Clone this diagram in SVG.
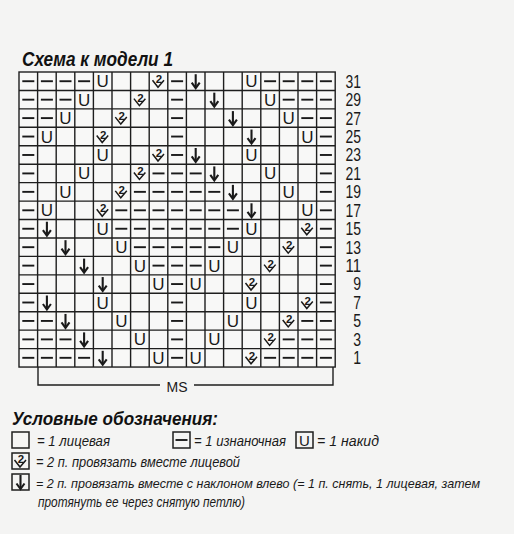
<svg xmlns="http://www.w3.org/2000/svg" xmlns:xlink="http://www.w3.org/1999/xlink" width="514" height="534" viewBox="0 0 514 534">
<style>
.bg{fill:#f4f4f3}
.grid{fill:none;stroke:#1e1e1e;stroke-width:1.4}
.sym{fill:none;stroke:#1a1a1a;stroke-width:1.9;stroke-linecap:butt}
.arr{fill:none;stroke:#1a1a1a;stroke-width:2.1;stroke-linejoin:miter}
.u{font-family:"Liberation Sans",Arial,sans-serif;font-size:17px;fill:#1a1a1a;text-anchor:middle}
.two{font-family:"Liberation Sans",Arial,sans-serif;font-size:11.5px;font-weight:bold;fill:#1a1a1a;text-anchor:middle}
.num{font-family:"Liberation Sans",Arial,sans-serif;font-size:17.5px;fill:#1a1a1a;text-anchor:end}
.title{font-family:"Liberation Sans",Arial,sans-serif;font-size:20px;font-weight:bold;font-style:italic;fill:#111}
.leg{font-family:"Liberation Sans",Arial,sans-serif;font-size:14px;font-style:italic;fill:#1a1a1a}
.ms{font-family:"Liberation Sans",Arial,sans-serif;font-size:14px;fill:#1a1a1a;text-anchor:middle}
.box{fill:none;stroke:#1e1e1e;stroke-width:1.5}
</style>
<defs>
<line id="d" class="sym" x1="-6" y1="0" x2="6" y2="0"/>
<g id="a"><line class="arr" x1="0" y1="-7" x2="0" y2="6"/><polyline class="arr" points="-4,1.5 0,7 4,1.5"/></g>
<polyline id="c" class="sym" style="stroke-width:1.5" points="-6,-1 -0.5,6 5.5,-1"/>
</defs>
<rect class="bg" x="0" y="0" width="514" height="534"/>
<text class="title" x="22" y="66" textLength="151" lengthAdjust="spacingAndGlyphs">Схема к модели 1</text>

<g id="grid">
<rect class="grid" x="19" y="72" width="316.2" height="295.04" style="fill:#f8f8f7"/>
<path class="grid" d="M37.6,72V367.04M56.2,72V367.04M74.8,72V367.04M93.4,72V367.04M112,72V367.04M130.6,72V367.04M149.2,72V367.04M167.8,72V367.04M186.4,72V367.04M205,72V367.04M223.6,72V367.04M242.2,72V367.04M260.8,72V367.04M279.4,72V367.04M298,72V367.04M316.6,72V367.04M19,90.44H335.2M19,108.88H335.2M19,127.32H335.2M19,145.76H335.2M19,164.2H335.2M19,182.64H335.2M19,201.08H335.2M19,219.52H335.2M19,237.96H335.2M19,256.4H335.2M19,274.84H335.2M19,293.28H335.2M19,311.72H335.2M19,330.16H335.2M19,348.6H335.2"/>
</g>

<g id="row31" transform="translate(0,81.22)">
<use xlink:href="#d" x="28.3"/><use xlink:href="#d" x="46.9"/><use xlink:href="#d" x="65.5"/><use xlink:href="#d" x="84.1"/>
<text class="u" x="102.7" y="6">U</text>
<use xlink:href="#c" x="158.5"/><text class="two" x="159" y="2">2</text>
<use xlink:href="#d" x="177.1"/>
<use xlink:href="#a" x="195.7"/>
<text class="u" x="251.5" y="6">U</text>
<use xlink:href="#d" x="270.1"/><use xlink:href="#d" x="288.7"/><use xlink:href="#d" x="307.3"/><use xlink:href="#d" x="325.9"/>
</g>
<g id="row29" transform="translate(0,99.66)">
<use xlink:href="#d" x="28.3"/><use xlink:href="#d" x="46.9"/><use xlink:href="#d" x="65.5"/>
<text class="u" x="84.1" y="6">U</text>
<use xlink:href="#c" x="139.9"/><text class="two" x="140.4" y="2">2</text>
<use xlink:href="#d" x="177.1"/>
<use xlink:href="#a" x="214.3"/>
<text class="u" x="270.1" y="6">U</text>
<use xlink:href="#d" x="288.7"/><use xlink:href="#d" x="307.3"/><use xlink:href="#d" x="325.9"/>
</g>
<g id="row27" transform="translate(0,118.1)">
<use xlink:href="#d" x="28.3"/><use xlink:href="#d" x="46.9"/>
<text class="u" x="65.5" y="6">U</text>
<use xlink:href="#c" x="121.3"/><text class="two" x="121.8" y="2">2</text>
<use xlink:href="#d" x="177.1"/>
<use xlink:href="#a" x="232.9"/>
<text class="u" x="288.7" y="6">U</text>
<use xlink:href="#d" x="307.3"/><use xlink:href="#d" x="325.9"/>
</g>
<g id="row25" transform="translate(0,136.54)">
<use xlink:href="#d" x="28.3"/>
<text class="u" x="46.9" y="6">U</text>
<use xlink:href="#c" x="102.7"/><text class="two" x="103.2" y="2">2</text>
<use xlink:href="#d" x="177.1"/>
<use xlink:href="#a" x="251.5"/>
<text class="u" x="307.3" y="6">U</text>
<use xlink:href="#d" x="325.9"/>
</g>
<g id="row23" transform="translate(0,154.98)">
<use xlink:href="#d" x="28.3"/>
<text class="u" x="102.7" y="6">U</text>
<use xlink:href="#c" x="158.5"/><text class="two" x="159" y="2">2</text>
<use xlink:href="#d" x="177.1"/>
<use xlink:href="#a" x="195.7"/>
<text class="u" x="251.5" y="6">U</text>
<use xlink:href="#d" x="325.9"/>
</g>
<g id="row21" transform="translate(0,173.42)">
<use xlink:href="#d" x="28.3"/>
<text class="u" x="84.1" y="6">U</text>
<use xlink:href="#c" x="139.9"/><text class="two" x="140.4" y="2">2</text>
<use xlink:href="#d" x="158.5"/><use xlink:href="#d" x="177.1"/><use xlink:href="#d" x="195.7"/>
<use xlink:href="#a" x="214.3"/>
<text class="u" x="270.1" y="6">U</text>
<use xlink:href="#d" x="325.9"/>
</g>
<g id="row19" transform="translate(0,191.86)">
<use xlink:href="#d" x="28.3"/>
<text class="u" x="65.5" y="6">U</text>
<use xlink:href="#c" x="121.3"/><text class="two" x="121.8" y="2">2</text>
<use xlink:href="#d" x="139.9"/><use xlink:href="#d" x="158.5"/><use xlink:href="#d" x="177.1"/><use xlink:href="#d" x="195.7"/><use xlink:href="#d" x="214.3"/>
<use xlink:href="#a" x="232.9"/>
<text class="u" x="288.7" y="6">U</text>
<use xlink:href="#d" x="325.9"/>
</g>
<g id="row17" transform="translate(0,210.3)">
<use xlink:href="#d" x="28.3"/>
<text class="u" x="46.9" y="6">U</text>
<use xlink:href="#c" x="102.7"/><text class="two" x="103.2" y="2">2</text>
<use xlink:href="#d" x="121.3"/><use xlink:href="#d" x="139.9"/><use xlink:href="#d" x="158.5"/><use xlink:href="#d" x="177.1"/><use xlink:href="#d" x="195.7"/><use xlink:href="#d" x="214.3"/><use xlink:href="#d" x="232.9"/>
<use xlink:href="#a" x="251.5"/>
<text class="u" x="307.3" y="6">U</text>
<use xlink:href="#d" x="325.9"/>
</g>
<g id="row15" transform="translate(0,228.74)">
<use xlink:href="#d" x="28.3"/>
<use xlink:href="#a" x="46.9"/>
<text class="u" x="102.7" y="6">U</text>
<use xlink:href="#d" x="121.3"/><use xlink:href="#d" x="139.9"/><use xlink:href="#d" x="158.5"/><use xlink:href="#d" x="177.1"/><use xlink:href="#d" x="195.7"/><use xlink:href="#d" x="214.3"/><use xlink:href="#d" x="232.9"/>
<text class="u" x="251.5" y="6">U</text>
<use xlink:href="#c" x="307.3"/><text class="two" x="307.8" y="2">2</text>
<use xlink:href="#d" x="325.9"/>
</g>
<g id="row13" transform="translate(0,247.18)">
<use xlink:href="#d" x="28.3"/>
<use xlink:href="#a" x="65.5"/>
<text class="u" x="121.3" y="6">U</text>
<use xlink:href="#d" x="139.9"/><use xlink:href="#d" x="158.5"/><use xlink:href="#d" x="177.1"/><use xlink:href="#d" x="195.7"/><use xlink:href="#d" x="214.3"/>
<text class="u" x="232.9" y="6">U</text>
<use xlink:href="#c" x="288.7"/><text class="two" x="289.2" y="2">2</text>
<use xlink:href="#d" x="325.9"/>
</g>
<g id="row11" transform="translate(0,265.62)">
<use xlink:href="#d" x="28.3"/>
<use xlink:href="#a" x="84.1"/>
<text class="u" x="139.9" y="6">U</text>
<use xlink:href="#d" x="158.5"/><use xlink:href="#d" x="177.1"/><use xlink:href="#d" x="195.7"/>
<text class="u" x="214.3" y="6">U</text>
<use xlink:href="#c" x="270.1"/><text class="two" x="270.6" y="2">2</text>
<use xlink:href="#d" x="325.9"/>
</g>
<g id="row9" transform="translate(0,284.06)">
<use xlink:href="#d" x="28.3"/>
<use xlink:href="#a" x="102.7"/>
<text class="u" x="158.5" y="6">U</text>
<use xlink:href="#d" x="177.1"/>
<text class="u" x="195.7" y="6">U</text>
<use xlink:href="#c" x="251.5"/><text class="two" x="252" y="2">2</text>
<use xlink:href="#d" x="325.9"/>
</g>
<g id="row7" transform="translate(0,302.5)">
<use xlink:href="#d" x="28.3"/>
<use xlink:href="#a" x="46.9"/>
<text class="u" x="102.7" y="6">U</text>
<use xlink:href="#d" x="177.1"/>
<text class="u" x="251.5" y="6">U</text>
<use xlink:href="#c" x="307.3"/><text class="two" x="307.8" y="2">2</text>
<use xlink:href="#d" x="325.9"/>
</g>
<g id="row5" transform="translate(0,320.94)">
<use xlink:href="#d" x="28.3"/><use xlink:href="#d" x="46.9"/>
<use xlink:href="#a" x="65.5"/>
<text class="u" x="121.3" y="6">U</text>
<use xlink:href="#d" x="177.1"/>
<text class="u" x="232.9" y="6">U</text>
<use xlink:href="#c" x="288.7"/><text class="two" x="289.2" y="2">2</text>
<use xlink:href="#d" x="307.3"/><use xlink:href="#d" x="325.9"/>
</g>
<g id="row3" transform="translate(0,339.38)">
<use xlink:href="#d" x="28.3"/><use xlink:href="#d" x="46.9"/><use xlink:href="#d" x="65.5"/>
<use xlink:href="#a" x="84.1"/>
<text class="u" x="139.9" y="6">U</text>
<use xlink:href="#d" x="177.1"/>
<text class="u" x="214.3" y="6">U</text>
<use xlink:href="#c" x="270.1"/><text class="two" x="270.6" y="2">2</text>
<use xlink:href="#d" x="288.7"/><use xlink:href="#d" x="307.3"/><use xlink:href="#d" x="325.9"/>
</g>
<g id="row1" transform="translate(0,357.82)">
<use xlink:href="#d" x="28.3"/><use xlink:href="#d" x="46.9"/><use xlink:href="#d" x="65.5"/><use xlink:href="#d" x="84.1"/>
<use xlink:href="#a" x="102.7"/>
<text class="u" x="158.5" y="6">U</text>
<use xlink:href="#d" x="177.1"/>
<text class="u" x="195.7" y="6">U</text>
<use xlink:href="#c" x="251.5"/><text class="two" x="252" y="2">2</text>
<use xlink:href="#d" x="270.1"/><use xlink:href="#d" x="288.7"/><use xlink:href="#d" x="307.3"/><use xlink:href="#d" x="325.9"/>
</g>

<g id="rownumbers">
<text class="num" x="361" y="87.6" textLength="15.5" lengthAdjust="spacingAndGlyphs">31</text>
<text class="num" x="361" y="106" textLength="15.5" lengthAdjust="spacingAndGlyphs">29</text>
<text class="num" x="361" y="124.5" textLength="15.5" lengthAdjust="spacingAndGlyphs">27</text>
<text class="num" x="361" y="142.9" textLength="15.5" lengthAdjust="spacingAndGlyphs">25</text>
<text class="num" x="361" y="161.4" textLength="15.5" lengthAdjust="spacingAndGlyphs">23</text>
<text class="num" x="361" y="179.8" textLength="15.5" lengthAdjust="spacingAndGlyphs">21</text>
<text class="num" x="361" y="198.2" textLength="15.5" lengthAdjust="spacingAndGlyphs">19</text>
<text class="num" x="361" y="216.7" textLength="15.5" lengthAdjust="spacingAndGlyphs">17</text>
<text class="num" x="361" y="235.1" textLength="15.5" lengthAdjust="spacingAndGlyphs">15</text>
<text class="num" x="361" y="253.6" textLength="15.5" lengthAdjust="spacingAndGlyphs">13</text>
<text class="num" x="361" y="272" textLength="15.5" lengthAdjust="spacingAndGlyphs">11</text>
<text class="num" x="361" y="290.4" textLength="7.8" lengthAdjust="spacingAndGlyphs">9</text>
<text class="num" x="361" y="308.9" textLength="7.8" lengthAdjust="spacingAndGlyphs">7</text>
<text class="num" x="361" y="327.3" textLength="7.8" lengthAdjust="spacingAndGlyphs">5</text>
<text class="num" x="361" y="345.8" textLength="7.8" lengthAdjust="spacingAndGlyphs">3</text>
<text class="num" x="361" y="364.2" textLength="7.8" lengthAdjust="spacingAndGlyphs">1</text>
</g>

<g id="connectors">
<path class="grid" d="M38,367V385H160M194,385H333V367"/>
</g>
<g id="ms"><text class="ms" x="177" y="391.5">MS</text></g>

<g id="legend">
<text class="title" x="12" y="425" style="font-size:19px" textLength="206" lengthAdjust="spacingAndGlyphs">Условные обозначения:</text>
<g id="leg-knit">
<rect class="box" x="12" y="432" width="17" height="16"/>
<text class="leg" x="37" y="446" textLength="73" lengthAdjust="spacingAndGlyphs">= 1 лицевая</text>
</g>
<g id="leg-purl">
<rect class="box" x="173" y="432" width="17" height="16"/>
<use xlink:href="#d" x="181.5" y="440"/>
<text class="leg" x="194" y="446" textLength="92" lengthAdjust="spacingAndGlyphs">= 1 изнаночная</text>
</g>
<g id="leg-yo">
<rect class="box" x="296" y="432" width="17" height="16"/>
<text class="u" x="304.5" y="446" style="font-size:15px">U</text>
<text class="leg" x="317" y="446" textLength="62" lengthAdjust="spacingAndGlyphs">= 1 накид</text>
</g>
<g id="leg-k2tog">
<rect class="box" x="12" y="453" width="17" height="16"/>
<use xlink:href="#c" x="20.5" y="461"/><text class="two" x="21" y="463">2</text>
<text class="leg" x="36" y="467" textLength="204" lengthAdjust="spacingAndGlyphs">= 2 п. провязать вместе лицевой</text>
</g>
<g id="leg-ssk">
<rect class="box" x="12" y="474" width="17" height="16"/>
<use xlink:href="#a" x="20.5" y="482"/>
<text class="leg" x="36" y="488" style="font-size:13px" textLength="444" lengthAdjust="spacingAndGlyphs">= 2 п. провязать вместе с наклоном влево (= 1 п. снять, 1 лицевая, затем</text>
<text class="leg" x="38" y="507" textLength="207" lengthAdjust="spacingAndGlyphs">протянуть ее через снятую петлю)</text>
</g>
</g>
</svg>
